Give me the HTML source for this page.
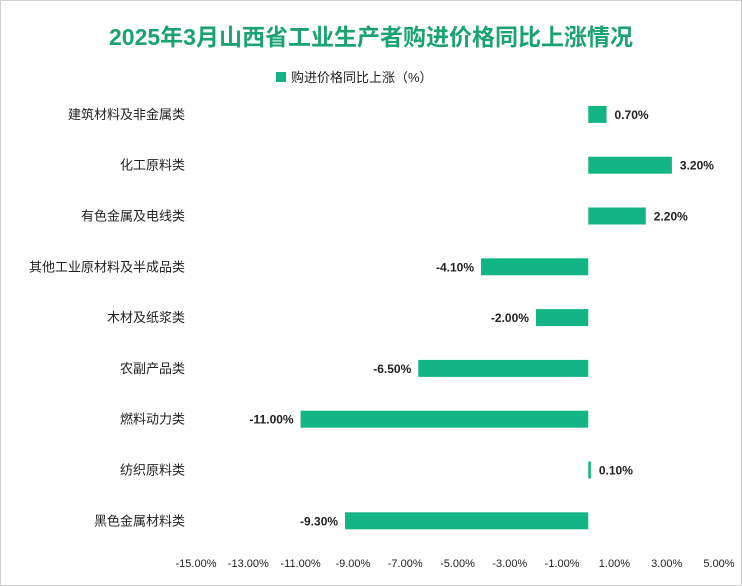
<!DOCTYPE html>
<html><head><meta charset="utf-8"><style>
body{margin:0;width:742px;height:586px;background:#fff;overflow:hidden;font-family:"Liberation Sans","Noto Sans CJK SC",sans-serif}
#frame{position:absolute;left:0;top:0;width:740px;height:584px;border:1px solid #d0d0d0}
</style></head><body>
<div id="frame"></div>
<svg id="chart" width="742" height="586" style="position:absolute;left:0;top:0">
<text x="371" y="45" text-anchor="middle" font-size="23" font-weight="bold" fill="#1aa36f">2025年3月山西省工业生产者购进价格同比上涨情况</text>
<g>
<rect x="276" y="72" width="10" height="10" fill="#14b584"></rect>
<text x="291" y="82" font-size="13" fill="#222">购进价格同比上涨（%）</text>
</g>
<g id="bars"></g>
<g id="xticks"></g>
</svg>
<script>
const categories=["建筑材料及非金属类","化工原料类","有色金属及电线类","其他工业原材料及半成品类","木材及纸浆类","农副产品类","燃料动力类","纺织原料类","黑色金属材料类"];
const values=[0.70,3.20,2.20,-4.10,-2.00,-6.50,-11.00,0.10,-9.30];
const tickValues=[-15,-13,-11,-9,-7,-5,-3,-1,1,3,5];
const xMin=-15,xMax=5,pxLeft=196,pxRight=719;
function xScale(v){return pxLeft+(v-xMin)/(xMax-xMin)*(pxRight-pxLeft);}
const rowTop=89,rowH=50.8;
function yCenter(i){return rowTop+rowH*(i+0.5);}
const NS="http://www.w3.org/2000/svg";
const bars=document.getElementById('bars');
const xt=document.getElementById('xticks');
categories.forEach((c,i)=>{
  const v=values[i],yc=yCenter(i),x0=xScale(0),x1=xScale(v);
  const r=document.createElementNS(NS,'rect');
  r.setAttribute('x',Math.min(x0,x1));r.setAttribute('y',yc-8.5);
  r.setAttribute('width',Math.max(Math.abs(x1-x0),1.5));r.setAttribute('height',17);
  r.setAttribute('fill','#14b584');
  
  
  bars.appendChild(r);
  const t=document.createElementNS(NS,'text');
  t.setAttribute('font-size','12');t.setAttribute('font-weight','bold');t.setAttribute('fill','#222');
  t.setAttribute('y',yc+4.5);
  if(v>=0){t.setAttribute('x',Math.max(x1,x0+2)+8);t.setAttribute('text-anchor','start');}
  else{t.setAttribute('x',x1-7);t.setAttribute('text-anchor','end');}
  t.textContent=v.toFixed(2)+'%';
  
  
  bars.appendChild(t);
  const l=document.createElementNS(NS,'text');
  l.setAttribute('x',185);l.setAttribute('y',yc+4.5);l.setAttribute('text-anchor','end');
  l.setAttribute('font-size','13');l.setAttribute('fill','#222');
  l.textContent=c;
  
  
  bars.appendChild(l);
});
tickValues.forEach(v=>{
  const t=document.createElementNS(NS,'text');
  t.setAttribute('x',xScale(v));t.setAttribute('y',567);t.setAttribute('text-anchor','middle');
  t.setAttribute('font-size','11');t.setAttribute('fill','#222');
  t.textContent=v.toFixed(2)+'%';
  
  
  xt.appendChild(t);
});
</script>
</body></html>
